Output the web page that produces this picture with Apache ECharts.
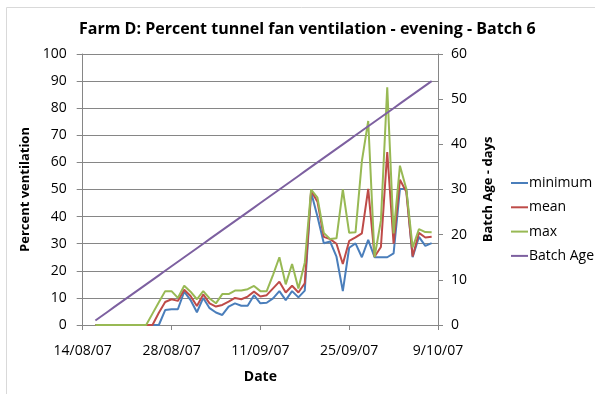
<!DOCTYPE html>
<html>
<head>
<meta charset="utf-8">
<script src="https://cdn.jsdelivr.net/npm/echarts@6/dist/echarts.min.js"></script>
<style>html,body{margin:0;padding:0;background:#fff;}#c{width:595px;height:394px;}</style>
</head>
<body>
<div id="c"></div>
<script>
const dates = [
 '16/08/07','17/08/07','18/08/07','19/08/07','20/08/07','21/08/07','22/08/07','23/08/07','24/08/07','25/08/07',
 '26/08/07','27/08/07','28/08/07','29/08/07','30/08/07','31/08/07',
 '1/09/07','2/09/07','3/09/07','4/09/07','5/09/07','6/09/07','7/09/07','8/09/07','9/09/07','10/09/07',
 '11/09/07','12/09/07','13/09/07','14/09/07','15/09/07','16/09/07','17/09/07','18/09/07','19/09/07','20/09/07',
 '21/09/07','22/09/07','23/09/07','24/09/07','25/09/07','26/09/07','27/09/07','28/09/07','29/09/07','30/09/07',
 '1/10/07','2/10/07','3/10/07','4/10/07','5/10/07','6/10/07','7/10/07','8/10/07'
];
const minimum = [0,0,0,0,0,0,0,0,0,0,0,
 5.5,5.8,5.8,12.3,9.2,4.7,10,6.2,4.6,3.7,6.8,8,7.1,7.1,11,8,8.2,9.8,12.5,9.2,12.5,10.2,12.7,
 49,40,30.2,30.8,25.2,12.5,28.5,30.1,25,31.4,25,25,25,26.4,50.2,50.2,25,32.5,29.2,30.2];
const mean = [0,0,0,0,0,0,0,0,0,0,
 4.5,8.5,9.5,8.9,13,10.7,7,11.3,8,6.8,7.4,8.6,10,9.5,10.5,12.3,10.5,11,13.5,16,12,14.5,12,15.4,
 49.5,45.5,32.5,31.7,30,22.5,31,32.3,33.8,50.2,25.2,28.8,63.8,30,53.6,49.2,25.3,34,32.3,32.6];
const max = [0,0,0,0,0,0,0,0,0,
 4.2,8.4,12.5,12.5,10,14.5,12.3,9.5,12.5,9.8,8,11.4,11.4,12.7,12.7,13.2,14.4,12.5,12.5,18.5,25,15,22.5,13.5,23,
 50,47,34,31.7,32,50,34,34.2,60.5,75.3,25,38.5,87.7,33.8,58.8,50.3,28.6,35.4,34.3,34.2];
const batchAge = [1,2,3,4,5,6,7,8,9,10,11,12,13,14,15,16,17,18,19,20,21,22,23,24,25,26,27,28,29,30,
 31,32,33,34,35,36,37,38,39,40,41,42,43,44,45,46,47,48,49,50,51,52,53,54];
const xTickLabels = ['14/08/07','28/08/07','11/09/07','25/09/07','9/10/07'];
const startDate = '14/08/07';

function toDay(s){
  const p = s.split('/').map(Number);
  const q = startDate.split('/').map(Number);
  return Math.round((Date.UTC(2000+p[2],p[1]-1,p[0]) - Date.UTC(2000+q[2],q[1]-1,q[0]))/864e5);
}
const xs = dates.map(toDay);
const pair = arr => arr.map((v,i)=>[xs[i],v]);

const FONT = 'Open Sans';
const grey = '#868686';
const chart = echarts.init(document.getElementById('c'), null, {renderer:'canvas'});
chart.setOption({
  animation:false,
  textStyle:{fontFamily:FONT},
  graphic:[{type:'rect',shape:{x:6.5,y:7.5,width:700,height:500},style:{fill:'none',stroke:'#d9d9d9',lineWidth:1},z:-1}],
  title:{text:'Farm D: Percent tunnel fan ventilation - evening - Batch 6',left:74,top:16,
    textStyle:{fontFamily:FONT,fontSize:16,fontWeight:'bold',color:'#000'}},
  grid:{left:82.7,right:157,top:54,bottom:69},
  legend:{orient:'vertical',left:506,top:171,itemWidth:17,itemHeight:2,itemGap:10.3,icon:'rect',
    textStyle:{fontFamily:FONT,fontSize:14,color:'#000',padding:[0,0,0,-4]},
    data:['minimum','mean','max','Batch Age']},
  xAxis:{type:'value',min:0,max:56,interval:14,name:'Date',nameLocation:'middle',nameGap:45,
    nameTextStyle:{fontFamily:FONT,fontSize:14,fontWeight:'bold',color:'#000'},
    axisLine:{lineStyle:{color:grey}},axisTick:{show:true,length:5,lineStyle:{color:grey}},
    splitLine:{show:false},
    axisLabel:{margin:19,fontSize:14,color:'#000',formatter:v=>xTickLabels[Math.round(v/14)]}},
  yAxis:[
    {type:'value',min:0,max:100,interval:10,name:'Percent ventilation',nameLocation:'middle',nameGap:48,nameRotate:90,
     nameTextStyle:{fontFamily:FONT,fontSize:13,fontWeight:'bold',color:'#000'},
     axisLine:{show:true,lineStyle:{color:grey}},axisTick:{show:true,length:6,lineStyle:{color:grey}},
     splitLine:{lineStyle:{color:grey,width:1}},
     axisLabel:{margin:16,fontSize:14,color:'#000'}},
    {type:'value',min:0,max:60,interval:10,name:'Batch Age - days',nameLocation:'middle',nameGap:44,nameRotate:90,
     nameTextStyle:{fontFamily:FONT,fontSize:13,fontWeight:'bold',color:'#000'},
     axisLine:{show:true,lineStyle:{color:grey}},axisTick:{show:true,length:5,lineStyle:{color:grey}},
     splitLine:{show:false},
     axisLabel:{margin:13,fontSize:14,color:'#000'}}
  ],
  series:[
    {name:'minimum',type:'line',data:pair(minimum),showSymbol:false,symbol:'none',lineStyle:{width:2,color:'#4A7EBB'},itemStyle:{color:'#4A7EBB'}},
    {name:'mean',type:'line',data:pair(mean),showSymbol:false,symbol:'none',lineStyle:{width:2,color:'#BE4B48'},itemStyle:{color:'#BE4B48'}},
    {name:'max',type:'line',data:pair(max),showSymbol:false,symbol:'none',lineStyle:{width:2,color:'#98B954'},itemStyle:{color:'#98B954'}},
    {name:'Batch Age',type:'line',yAxisIndex:1,data:pair(batchAge),showSymbol:false,symbol:'none',lineStyle:{width:2,color:'#7D60A0'},itemStyle:{color:'#7D60A0'}}
  ]
});
</script>
</body>
</html>
